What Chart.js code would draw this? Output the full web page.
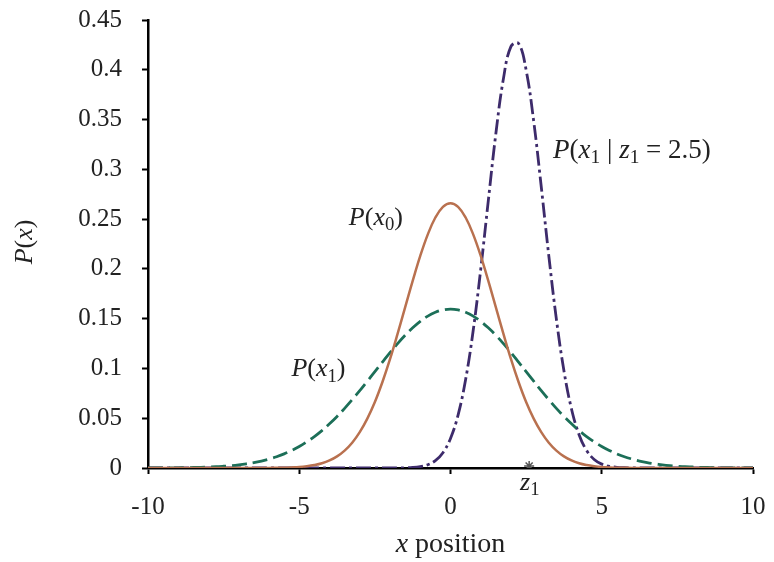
<!DOCTYPE html>
<html>
<head>
<meta charset="utf-8">
<script src="https://cdn.jsdelivr.net/npm/chart.js@4.4.1/dist/chart.umd.min.js"></script>
<style>
  html, body { margin: 0; padding: 0; background: #fff; }
  #wrap { width: 774px; height: 562px; }
</style>
</head>
<body>
<div id="wrap"><canvas id="kalmanChart"></canvas></div>
<script>
// x grid (position) at 0.25 steps
const xValues = [
  -10, -9.75, -9.5, -9.25, -9, -8.75, -8.5, -8.25, -8, -7.75, -7.5, -7.25, -7, -6.75, -6.5, -6.25,
  -6, -5.75, -5.5, -5.25, -5, -4.75, -4.5, -4.25, -4, -3.75, -3.5, -3.25, -3, -2.75, -2.5, -2.25,
  -2, -1.75, -1.5, -1.25, -1, -0.75, -0.5, -0.25, 0, 0.25, 0.5, 0.75, 1, 1.25, 1.5, 1.75,
  2, 2.25, 2.5, 2.75, 3, 3.25, 3.5, 3.75, 4, 4.25, 4.5, 4.75, 5, 5.25, 5.5, 5.75,
  6, 6.25, 6.5, 6.75, 7, 7.25, 7.5, 7.75, 8, 8.25, 8.5, 8.75, 9, 9.25, 9.5, 9.75, 10
];

// P(x0) - solid brown curve
const priorX0 = [
  0, 0, 0, 0, 0, 0, 0, 0, 0, 0, 0, 0, 0, 0, 0, 0,
  0.0001, 0.0002, 0.0003, 0.0006, 0.0010, 0.0018, 0.0030, 0.0048, 0.0076, 0.0117, 0.0175, 0.0254, 0.0360, 0.0496, 0.0663, 0.0864,
  0.1093, 0.1347, 0.1613, 0.1879, 0.2130, 0.2347, 0.2516, 0.2623, 0.2660, 0.2623, 0.2516, 0.2347, 0.2130, 0.1879, 0.1613, 0.1347,
  0.1093, 0.0864, 0.0663, 0.0496, 0.0360, 0.0254, 0.0175, 0.0117, 0.0076, 0.0048, 0.0030, 0.0018, 0.0010, 0.0006, 0.0003, 0.0002,
  0.0001, 0, 0, 0, 0, 0, 0, 0, 0, 0, 0, 0, 0, 0, 0, 0, 0
];

// P(x1) - dashed green curve
const predX1 = [
  0.0001, 0.0001, 0.0001, 0.0002, 0.0002, 0.0003, 0.0005, 0.0007, 0.0010, 0.0013, 0.0018, 0.0024, 0.0032, 0.0042, 0.0054, 0.0070,
  0.0090, 0.0113, 0.0142, 0.0176, 0.0216, 0.0263, 0.0316, 0.0376, 0.0444, 0.0518, 0.0599, 0.0686, 0.0777, 0.0872, 0.0968, 0.1064,
  0.1159, 0.1249, 0.1333, 0.1408, 0.1473, 0.1526, 0.1564, 0.1588, 0.1596, 0.1588, 0.1564, 0.1526, 0.1473, 0.1408, 0.1333, 0.1249,
  0.1159, 0.1064, 0.0968, 0.0872, 0.0777, 0.0686, 0.0599, 0.0518, 0.0444, 0.0376, 0.0316, 0.0263, 0.0216, 0.0176, 0.0142, 0.0113,
  0.0090, 0.0070, 0.0054, 0.0042, 0.0032, 0.0024, 0.0018, 0.0013, 0.0010, 0.0007, 0.0005, 0.0003, 0.0002, 0.0002, 0.0001, 0.0001, 0.0001
];

// P(x1 | z1 = 2.5) - dash-dot purple curve
const postX1 = [
  0, 0, 0, 0, 0, 0, 0, 0, 0, 0, 0, 0, 0, 0, 0, 0,
  0, 0, 0, 0, 0, 0, 0, 0, 0, 0, 0, 0, 0, 0, 0, 0,
  0, 0, 0.0002, 0.0005, 0.0014, 0.0033, 0.0074, 0.0154, 0.0297, 0.0532, 0.0889, 0.1381, 0.1997, 0.2686, 0.3360, 0.3911,
  0.4235, 0.4265, 0.3997, 0.3484, 0.2825, 0.2131, 0.1496, 0.0976, 0.0593, 0.0335, 0.0176, 0.0086, 0.0039, 0.0017, 0.0007, 0.0003,
  0.0001, 0, 0, 0, 0, 0, 0, 0, 0, 0, 0, 0, 0, 0, 0, 0, 0
];

// measurement marker z1
const measurement = [{ x: 2.6, y: 0.002 }];

const xTicks = [-10, -5, 0, 5, 10];
const yTicks = [0, 0.05, 0.1, 0.15, 0.2, 0.25, 0.3, 0.35, 0.4, 0.45];

const serif = '"Liberation Serif", "Times New Roman", serif';

function toPoints(ys) {
    return xValues.map((x, i) => ({ x: x, y: ys[i] }));
}

// draw a run of text pieces: i = italic, n = normal, s = subscript
function drawRich(ctx, parts, x, y, size) {
    let cx = x;
    parts.forEach(p => {
        const small = p.s === 's';
        const fs = small ? size * 0.72 : size;
        ctx.font = (p.s === 'i' ? 'italic ' : '') + fs + 'px ' + serif;
        ctx.fillText(p.t, cx, small ? y + size * 0.28 : y);
        cx += ctx.measureText(p.t).width;
    });
    return cx - x;
}

function richWidth(ctx, parts, size) {
    let w = 0;
    parts.forEach(p => {
        const small = p.s === 's';
        ctx.font = (p.s === 'i' ? 'italic ' : '') + (small ? size * 0.72 : size) + 'px ' + serif;
        w += ctx.measureText(p.t).width;
    });
    return w;
}

const labelPlugin = {
    id: 'labels',
    afterDraw(chart) {
        const ctx = chart.ctx;
        const xs = chart.scales.x, ys = chart.scales.y, area = chart.chartArea;
        ctx.save();
        ctx.fillStyle = '#222';
        ctx.textBaseline = 'middle';
        ctx.textAlign = 'left';

        drawRich(ctx, [{ t: 'P', s: 'i' }, { t: '(', s: 'n' }, { t: 'x', s: 'i' }, { t: '0', s: 's' }, { t: ')', s: 'n' }],
            xs.getPixelForValue(-3.36), ys.getPixelForValue(0.251), 26);
        drawRich(ctx, [{ t: 'P', s: 'i' }, { t: '(', s: 'n' }, { t: 'x', s: 'i' }, { t: '1', s: 's' }, { t: ')', s: 'n' }],
            xs.getPixelForValue(-5.26), ys.getPixelForValue(0.099), 26);
        drawRich(ctx, [{ t: 'P', s: 'i' }, { t: '(', s: 'n' }, { t: 'x', s: 'i' }, { t: '1', s: 's' },
            { t: ' | ', s: 'n' }, { t: 'z', s: 'i' }, { t: '1', s: 's' }, { t: ' = 2.5)', s: 'n' }],
            xs.getPixelForValue(3.39), ys.getPixelForValue(0.319), 27);
        drawRich(ctx, [{ t: 'z', s: 'i' }, { t: '1', s: 's' }],
            xs.getPixelForValue(2.3), ys.bottom + 15, 26);

        // x axis title
        const xt = [{ t: 'x', s: 'i' }, { t: ' position', s: 'n' }];
        const w = richWidth(ctx, xt, 28);
        drawRich(ctx, xt, (area.left + area.right) / 2 - w / 2, ys.bottom + 77, 28);

        // y axis title, rotated
        const yt = [{ t: 'P', s: 'i' }, { t: '(', s: 'n' }, { t: 'x', s: 'i' }, { t: ')', s: 'n' }];
        const wy = richWidth(ctx, yt, 26);
        ctx.translate(area.left - 123, 242);
        ctx.rotate(-Math.PI / 2);
        drawRich(ctx, yt, -wy / 2, 0, 26);
        ctx.restore();
    }
};

const ctx = document.getElementById('kalmanChart').getContext('2d');
new Chart(ctx, {
    type: 'line',
    data: {
        datasets: [
            {
                label: 'P(x0)',
                data: toPoints(priorX0),
                borderColor: '#b9714f',
                borderWidth: 2.5,
                pointRadius: 0,
                tension: 0.4,
                fill: false
            },
            {
                label: 'P(x1)',
                data: toPoints(predX1),
                borderColor: '#1c6f58',
                borderWidth: 2.8,
                borderDash: [15, 6],
                pointRadius: 0,
                tension: 0.4,
                fill: false
            },
            {
                label: 'P(x1 | z1 = 2.5)',
                data: toPoints(postX1),
                borderColor: '#3d2b6b',
                borderWidth: 2.8,
                borderDash: [15, 4, 3, 4],
                pointRadius: 0,
                tension: 0.4,
                fill: false
            },
            {
                type: 'scatter',
                label: 'z1',
                data: measurement,
                pointStyle: 'star',
                radius: 5,
                borderColor: '#555',
                borderWidth: 1.5,
                backgroundColor: '#555'
            }
        ]
    },
    options: {
        responsive: true,
        maintainAspectRatio: false,
        animation: false,
        layout: { padding: { left: 0, right: 21, top: 20, bottom: 0 } },
        plugins: {
            legend: { display: false },
            tooltip: { enabled: false }
        },
        scales: {
            x: {
                type: 'linear',
                min: -10,
                max: 10,
                afterBuildTicks: function(scale) {
                    scale.ticks = xTicks.map(v => ({ value: v }));
                },
                afterFit: function(scale) {
                    scale.height = 94;
                    scale.paddingLeft = 0;
                    scale.paddingRight = 0;
                },
                border: { color: '#000', width: 2.5 },
                grid: { drawOnChartArea: false, color: '#000', tickLength: 6, tickWidth: 2 },
                ticks: {
                    color: '#222',
                    padding: 18,
                    font: { family: serif, size: 25 },
                    maxRotation: 0
                }
            },
            y: {
                min: 0,
                max: 0.45,
                afterBuildTicks: function(scale) {
                    scale.ticks = yTicks.map(v => ({ value: v }));
                },
                afterFit: function(scale) {
                    scale.width = 148;
                    scale.paddingTop = 0;
                    scale.paddingBottom = 0;
                },
                border: { color: '#000', width: 2.5 },
                grid: { drawOnChartArea: false, color: '#000', tickLength: 6, tickWidth: 2 },
                ticks: {
                    color: '#222',
                    padding: 20,
                    font: { family: serif, size: 25 },
                    callback: v => String(Math.round(v * 100) / 100)
                }
            }
        }
    },
    plugins: [labelPlugin]
});
</script>
</body>
</html>
